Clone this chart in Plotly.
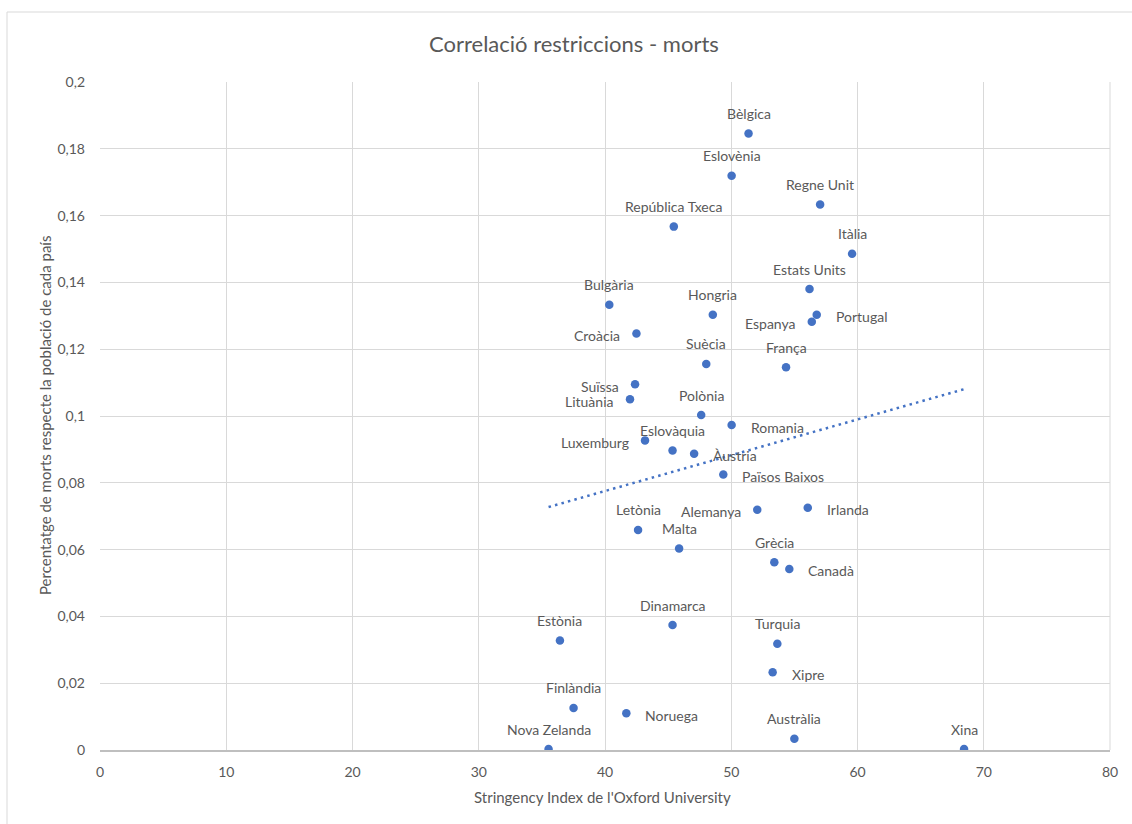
import numpy as np
import plotly.graph_objects as go

# Country data: Oxford stringency index vs. deaths as % of population
countries = [
    "Bèlgica", "Eslovènia", "Regne Unit", "República Txeca", "Itàlia",
    "Estats Units", "Bulgària", "Hongria", "Portugal", "Espanya",
    "Croàcia", "Suècia", "França", "Suïssa", "Lituània",
    "Polònia", "Romania", "Luxemburg", "Eslovàquia", "Àustria",
    "Països Baixos", "Alemanya", "Irlanda", "Letònia", "Malta",
    "Grècia", "Canadà", "Dinamarca", "Estònia", "Turquia",
    "Xipre", "Finlàndia", "Noruega", "Austràlia", "Nova Zelanda", "Xina",
]
stringency = [
    51.37, 50.03, 57.04, 45.45, 59.57,
    56.20, 40.34, 48.54, 56.77, 56.38,
    42.49, 48.02, 54.34, 42.38, 41.98,
    47.62, 50.03, 43.17, 45.35, 47.06,
    49.37, 52.06, 56.06, 42.62, 45.87,
    53.41, 54.60, 45.35, 36.43, 53.65,
    53.28, 37.51, 41.69, 55.00, 35.53, 68.44,
]
deaths_pct = [
    0.1846, 0.1719, 0.1633, 0.1567, 0.1486,
    0.1380, 0.1333, 0.1303, 0.1303, 0.1282,
    0.1247, 0.1156, 0.1146, 0.1095, 0.1050,
    0.1003, 0.0973, 0.0927, 0.0897, 0.0887,
    0.0825, 0.0719, 0.0725, 0.0659, 0.0603,
    0.0562, 0.0542, 0.0374, 0.0328, 0.0318,
    0.0233, 0.0126, 0.0110, 0.0034, 0.0003, 0.0003,
]
# where each country's label sits relative to its marker
label_side = [
    "top", "top", "top", "top", "top",
    "top", "top", "top", "right", "left",
    "left", "top", "top", "left", "left",
    "top", "right", "left", "top", "right",
    "right", "left", "right", "top", "top",
    "top", "right", "top", "top", "top",
    "right", "top", "right", "top", "top", "top",
]

x_ticks = [0, 10, 20, 30, 40, 50, 60, 70, 80]
y_ticks = [0, 0.02, 0.04, 0.06, 0.08, 0.1, 0.12, 0.14, 0.16, 0.18, 0.2]

FONT = "Lato, 'Open Sans', sans-serif"
GREY_TEXT = "#595959"
BLUE = "#4472C4"

# Linear trend line (least squares) across the data range
xs = np.array(stringency)
ys = np.array(deaths_pct)
slope, intercept = np.polyfit(xs, ys, 1)
trend_x = np.array([xs.min(), xs.max()])
trend_y = slope * trend_x + intercept

fig = go.Figure()

fig.add_trace(go.Scatter(
    x=trend_x, y=trend_y, mode="lines",
    line=dict(color=BLUE, width=2.5, dash="2.5px,4.2px"),
    hoverinfo="skip", showlegend=False,
))

fig.add_trace(go.Scatter(
    x=stringency, y=deaths_pct, mode="markers",
    marker=dict(color=BLUE, size=8.5),
    text=countries, hoverinfo="text+x+y",
    showlegend=False,
))

# Data labels placed beside each marker
label_style = {
    "top": dict(xanchor="center", yanchor="middle", xshift=0, yshift=20),
    "right": dict(xanchor="left", yanchor="middle", xshift=18, yshift=-2),
    "left": dict(xanchor="right", yanchor="middle", xshift=-15, yshift=-2),
}
annotations = []
for name, xv, yv, side in zip(countries, stringency, deaths_pct, label_side):
    annotations.append(dict(
        text=name, x=xv, y=yv, xref="x", yref="y", showarrow=False,
        borderpad=0, font=dict(family=FONT, size=14, color=GREY_TEXT),
        **label_style[side],
    ))

annotations += [
    dict(text="Stringency Index de l'Oxford University",
         xref="paper", yref="paper", x=0.4975, y=(750 - 797) / 668,
         xanchor="center", yanchor="middle", showarrow=False,
         font=dict(family=FONT, size=15, color=GREY_TEXT)),
    dict(text="Percentatge de morts respecte la població de cada país",
         xref="paper", yref="paper", x=(45 - 100) / 1010, y=0.5,
         xanchor="center", yanchor="middle", showarrow=False, textangle=-90,
         font=dict(family=FONT, size=15, color=GREY_TEXT)),
]

fig.update_layout(
    width=1132, height=824,
    margin=dict(l=100, r=22, t=82, b=74),
    paper_bgcolor="white", plot_bgcolor="white",
    separators=",.",
    font=dict(family=FONT, size=14, color=GREY_TEXT),
    title=dict(
        text="Correlació restriccions - morts",
        x=0.507, xref="container", xanchor="center",
        y=1 - 44 / 824, yref="container", yanchor="middle",
        font=dict(family=FONT, size=22, color=GREY_TEXT),
    ),
    xaxis=dict(
        range=[0, 80], tickvals=x_ticks, ticktext=[str(v) for v in x_ticks],
        showgrid=True, gridcolor="#D9D9D9", gridwidth=1,
        zeroline=False, showline=True, linecolor="#BFBFBF", linewidth=1.5,
        ticks="", ticklabelstandoff=8,
        tickfont=dict(family=FONT, size=14, color=GREY_TEXT),
    ),
    yaxis=dict(
        range=[0, 0.2], tickvals=y_ticks,
        ticktext=[("%g" % v).replace(".", ",") for v in y_ticks],
        showgrid=True, gridcolor="#D9D9D9", gridwidth=1,
        zeroline=False, showline=False,
        ticks="", ticklabelstandoff=14,
        tickfont=dict(family=FONT, size=14, color=GREY_TEXT),
    ),
    shapes=[
        # right edge of plot area
        dict(type="line", xref="paper", yref="paper", x0=1, x1=1, y0=0, y1=1,
             line=dict(color="#D9D9D9", width=1)),
        # outer chart frame
        dict(type="rect", xref="paper", yref="paper",
             x0=-93 / 1010, x1=1.2, y0=-0.2, y1=(750 - 12) / 668,
             line=dict(color="#D9D9D9", width=1), layer="below"),
    ],
    annotations=annotations,
)

fig.write_html("out.html")
